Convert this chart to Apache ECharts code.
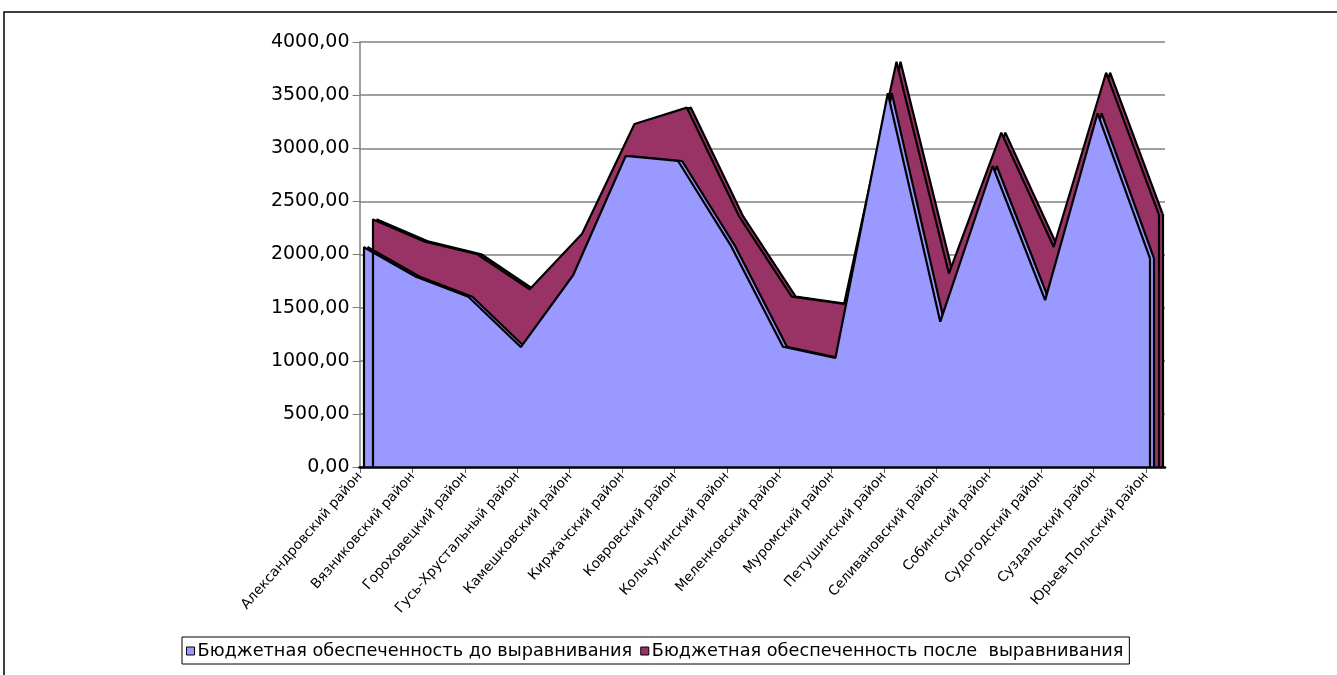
<!DOCTYPE html>
<html><head><meta charset="utf-8">
<script src="https://cdn.jsdelivr.net/npm/echarts@6/dist/echarts.min.js"></script>
<style>html,body{margin:0;padding:0;background:#fff}#c{width:1337px;height:675px}</style>
</head><body><div id="c"></div>
<script>
const categories = ['Александровский район','Вязниковский район','Гороховецкий район','Гусь-Хрустальный район','Камешковский район','Киржачский район','Ковровский район','Кольчугинский район','Меленковский район','Муромский район','Петушинский район','Селивановский район','Собинский район','Судогодский район','Суздальский район','Юрьев-Польский район'];
const before = [2070, 1791, 1603, 1129, 1807, 2927, 2880, 2089, 1132, 1026, 3517, 1368, 2833, 1571, 3329, 1964];
const after = [2331, 2121, 2002, 1672, 2196, 3228, 3382, 2356, 1603, 1534, 3815, 1821, 3147, 2071, 3711, 2384];
const seriesNames = ['Бюджетная обеспеченность до выравнивания', 'Бюджетная обеспеченность после  выравнивания'];
const yTicks = {min: 0, max: 4000, interval: 500};

const FONT = 'DejaVu Sans, Liberation Sans, Arial, sans-serif';
const chart = echarts.init(document.getElementById('c'), null, {renderer: 'canvas'});
const gTop = 42, gBottom = 208;
const W = 1337;
function edgeLines(vals, both) {
  const n = vals.length - 1;
  const out = [[{coord: [categories[n], 0]}, {coord: [categories[n], vals[n]]}]];
  if (both) out.push([{coord: [categories[0], 0]}, {coord: [categories[0], vals[0]]}]);
  return out;
}
const hiddenY = i => ({type: 'value', gridIndex: i, min: yTicks.min, max: yTicks.max, interval: yTicks.interval, show: false});
const hiddenX = i => ({type: 'category', gridIndex: i, data: categories, boundaryGap: false, show: false});
// grid spans: [left x, right x]
const spans = [[359.5, 1165], [360, 1146], [363.5, 1150], [367.5, 1154], [372.5, 1158.5], [376.5, 1162.5]];
function areaSeries(name, vals, idx, color, z, front) {
  return {name: name, type: 'line', xAxisIndex: idx, yAxisIndex: idx, data: vals, symbol: 'none', z: z,
    itemStyle: {color: color}, lineStyle: {color: '#000', width: 2.2}, areaStyle: {color: color, opacity: 1},
    markLine: {silent: true, symbol: 'none', label: {show: false}, lineStyle: {color: '#000', width: 2.2, type: 'solid'}, data: edgeLines(vals, front)}};
}
chart.setOption({
  animation: false,
  backgroundColor: '#fff',
  graphic: [{type: 'rect', shape: {x: 4, y: 12, width: 1500, height: 800}, style: {fill: 'none', stroke: '#000', lineWidth: 1.5}, z: 100}],
  grid: spans.map(s => ({left: s[0], right: W - s[1], top: gTop, bottom: gBottom})),
  xAxis: [
    {type: 'category', gridIndex: 0, data: categories, boundaryGap: false, axisLine: {show: true, lineStyle: {color: '#000', width: 2.5}}, axisTick: {show: false}, axisLabel: {show: false}, z: 10},
    {type: 'category', gridIndex: 1, data: categories, boundaryGap: false,
      axisLine: {show: false}, axisTick: {show: true, length: 6, lineStyle: {color: '#666', width: 1}},
      axisLabel: {rotate: 49, interval: 0, margin: 7, color: '#000', fontSize: 13.8, fontFamily: FONT}},
    hiddenX(2), hiddenX(3), hiddenX(4), hiddenX(5)
  ],
  yAxis: [
    {type: 'value', gridIndex: 0, min: yTicks.min, max: yTicks.max, interval: yTicks.interval,
      axisLine: {show: true, lineStyle: {color: '#808080', width: 1.5}},
      axisTick: {show: true, length: 7, lineStyle: {color: '#808080', width: 1}},
      splitLine: {show: true, lineStyle: {color: '#808080', width: 1.5}},
      axisLabel: {color: '#000', fontSize: 19, fontFamily: FONT, margin: 10, formatter: v => v.toFixed(2).replace('.', ',')}},
    hiddenY(1), hiddenY(2), hiddenY(3), hiddenY(4), hiddenY(5)
  ],
  legend: {
    left: 182, top: 637, width: 1000, height: 20,
    padding: [5, 6, 4, 4], itemGap: 8, itemWidth: 8, itemHeight: 8, icon: 'rect',
    borderColor: '#000', borderWidth: 1,
    textStyle: {color: '#000', fontSize: 17.7, fontFamily: FONT, padding: [0, 0, 0, -2]},
    data: [{name: seriesNames[0], itemStyle: {borderColor: '#000', borderWidth: 1}}, {name: seriesNames[1], itemStyle: {borderColor: '#000', borderWidth: 1}}]
  },
  series: [
    areaSeries(seriesNames[1], after, 5, '#993366', 1, false),
    areaSeries(seriesNames[1], after, 4, '#993366', 2, true),
    areaSeries(seriesNames[0], before, 3, '#9999FF', 3, false),
    areaSeries(seriesNames[0], before, 2, '#9999FF', 4, true)
  ]
});
</script></body></html>
